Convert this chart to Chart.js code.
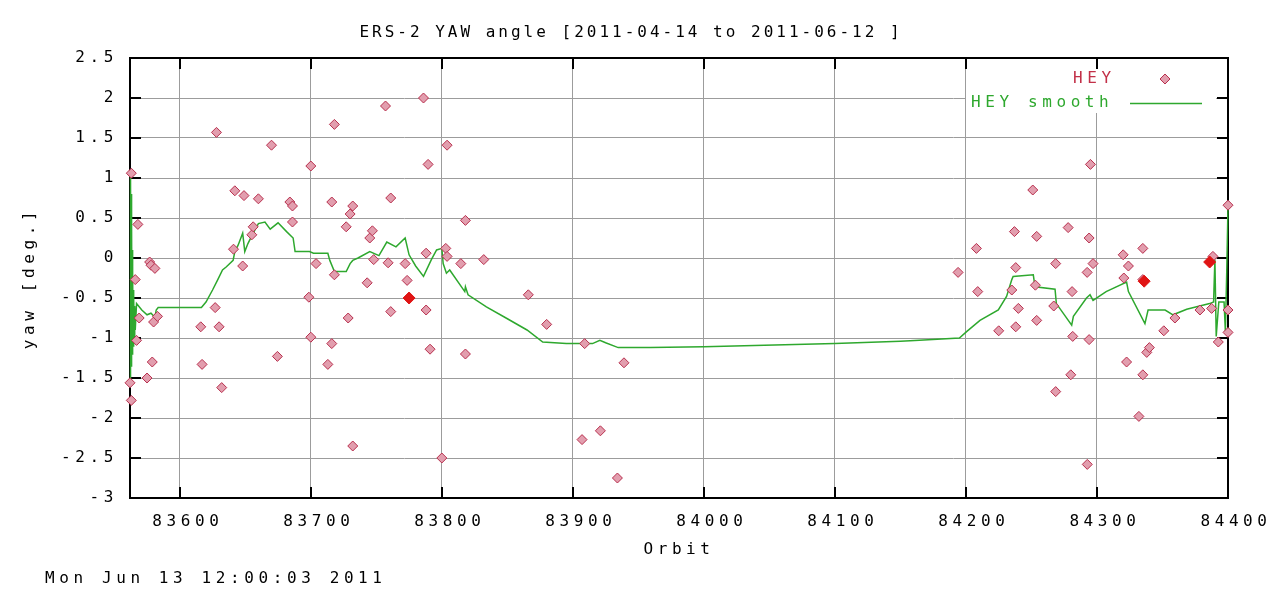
<!DOCTYPE html>
<html>
<head>
<meta charset="utf-8">
<script src="https://cdn.jsdelivr.net/npm/chart.js@4.4.1/dist/chart.umd.min.js"></script>
<style>
  html, body { margin: 0; padding: 0; background: #fff; }
</style>
</head>
<body>
<canvas id="yawChart" width="1277" height="593"></canvas>
<script>
// ---- Data ----
const heyOrbit = [
  83562, 83563, 83563, 83566, 83567, 83568, 83569, 83575, 83577, 83578, 83579, 83580, 83581, 83583,
  83616, 83617, 83627, 83628, 83630, 83632, 83641, 83642, 83648, 83649, 83655, 83656, 83660, 83670,
  83674.5, 83684, 83686, 83686, 83698.5, 83700, 83700, 83704, 83713, 83716, 83716, 83718, 83718,
  83727, 83728.5, 83730, 83732, 83732, 83743, 83745, 83747, 83748, 83757, 83759, 83761, 83761,
  83772, 83773.5, 83786, 83788, 83788, 83789.5, 83791, 83800, 83803, 83804, 83804, 83814.5, 83818,
  83818, 83832, 83866, 83880, 83907, 83909, 83921, 83934, 83939,
  84194, 84208, 84209, 84225, 84235, 84237, 84238, 84238, 84240, 84251, 84253, 84254, 84254, 84267,
  84268.5, 84268.5, 84278, 84280, 84281, 84281.5, 84292.5, 84292.6, 84294, 84294, 84295, 84297,
  84320, 84320.5, 84322.6, 84324, 84332, 84335, 84335, 84335, 84338, 84340, 84351, 84359.5,
  84378.6, 84387.5, 84388.5, 84392.6, 84400, 84400, 84400
];
const heyYaw = [
  -1.56, 1.06, -1.78, -0.27, -1.03, 0.42, -0.75, -1.50, -0.05, -0.09, -1.30, -0.80, -0.13, -0.73,
  -0.86, -1.33, -0.62, 1.57, -0.86, -1.62, 0.11, 0.84, -0.10, 0.78, 0.29, 0.39, 0.74, 1.41,
  -1.23, 0.70, 0.65, 0.45, -0.49, 1.15, -0.99, -0.07, -1.33, 0.70, -1.07, 1.67, -0.21,
  0.39, -0.75, 0.55, 0.65, -2.35, -0.31, 0.25, 0.34, -0.02, 1.90, -0.06, 0.75, -0.67,
  -0.07, -0.28, 2.00, 0.06, -0.65, 1.17, -1.14, -2.50, 0.12, 1.41, 0.02, -0.07, 0.47,
  -1.20, -0.02, -0.46, -0.83, -2.27, -1.07, -2.16, -2.75, -1.31,
  -0.18, 0.12, -0.42, -0.91, -0.40, 0.33, -0.12, -0.86, -0.63, 0.85, -0.34, 0.27, -0.78, -0.60,
  -0.07, -1.67, 0.38, -1.46, -0.42, -0.98, -0.18, -2.58, 0.25, -1.02, 1.17, -0.07,
  0.04, -0.25, -1.30, -0.10, -1.98, 0.12, -0.27, -1.46, -1.18, -1.12, -0.91, -0.75,
  -0.65, -0.63, 0.02, -1.05, 0.66, -0.65, -0.93
];
// overlapping samples that come out as solid red diamonds
const heyDenseOrbit = [83775, 84336, 84386];
const heyDenseYaw   = [-0.50, -0.29, -0.05];

const smoothOrbit = [
  83562, 83562.2, 83562.4, 83562.6, 83562.8, 83563, 83563.2, 83563.4, 83563.6, 83563.8, 83564,
  83564.2, 83564.4, 83564.6, 83564.8, 83565, 83565.3, 83565.6, 83566,
  83567, 83571, 83575, 83578, 83581, 83582, 83583.5, 83616.5, 83620, 83625, 83629, 83632.6,
  83635.6, 83640.7, 83642, 83644.5, 83648, 83649.6, 83652, 83656, 83660, 83665, 83669, 83675,
  83681.5, 83686.5, 83688, 83699, 83702, 83713, 83714.5, 83718, 83727, 83730, 83732, 83736,
  83745, 83752, 83758, 83765, 83772, 83775, 83780, 83786, 83792, 83796, 83800, 83801, 83803.5,
  83806, 83817.5, 83818, 83820, 83834, 83849, 83865, 83877, 83895, 83915, 83920.6, 83925,
  83934.6, 83959, 84000, 84100, 84150, 84161, 84195, 84200.5, 84210.7, 84224.7, 84231, 84235,
  84236, 84251.4, 84252.7, 84268, 84269, 84280.7, 84282, 84292, 84294.7, 84297, 84307, 84322.6,
  84324, 84336.6, 84339, 84352, 84358, 84368.5, 84386, 84389, 84390, 84391, 84393, 84397,
  84398, 84399, 84400
];
const smoothYaw = [
  -1.55, 1.05, -1.45, 0.95, -1.35, 0.80, -1.30, 0.40, -1.20, 0.10, -1.15,
  -0.20, -1.10, -0.40, -1.05, -0.50, -1.00, -0.60, -0.90,
  -0.57, -0.65, -0.71, -0.69, -0.74, -0.65, -0.62, -0.62, -0.55, -0.40, -0.27, -0.15,
  -0.11, -0.03, 0.08, 0.16, 0.31, 0.08, 0.18, 0.31, 0.43, 0.45, 0.36, 0.44,
  0.33, 0.25, 0.08, 0.08, 0.06, 0.06, -0.03, -0.17, -0.17, -0.07, -0.03, 0.00,
  0.08, 0.03, 0.20, 0.14, 0.25, 0.04, -0.10, -0.23, -0.02, 0.10, 0.12, -0.07, -0.19,
  -0.15, -0.42, -0.36, -0.46, -0.61, -0.75, -0.90, -1.05, -1.07, -1.07, -1.03, -1.06,
  -1.12, -1.12, -1.11, -1.07, -1.04, -1.03, -1.00, -0.92, -0.78, -0.65, -0.48, -0.27,
  -0.23, -0.21, -0.36, -0.39, -0.57, -0.84, -0.73, -0.50, -0.46, -0.53, -0.42, -0.30,
  -0.42, -0.82, -0.65, -0.65, -0.71, -0.64, -0.57, -0.55, -0.02, -0.98, -0.55, -0.55,
  -0.92, -0.20, 0.66
];

const xTickValues = [83600, 83700, 83800, 83900, 84000, 84100, 84200, 84300, 84400];
const yTickValues = [-3, -2.5, -2, -1.5, -1, -0.5, 0, 0.5, 1, 1.5, 2, 2.5];

const TITLE     = 'ERS-2 YAW angle [2011-04-14 to 2011-06-12 ]';
const X_TITLE   = 'Orbit';
const Y_TITLE   = 'yaw [deg.]';
const TIMESTAMP = 'Mon Jun 13 12:00:03 2011';

// ---- Look ----
const MONO    = '"DejaVu Sans Mono", "Liberation Mono", monospace';
const SPACING = '4.6px';
const GRID    = '#9c9c9c';
const PT_FILL = '#e29eae';
const PT_EDGE = '#b8304e';
const GREEN   = '#2ea82e';

const toXY = (xs, ys) => xs.map((x, i) => ({ x, y: ys[i] }));

// ---- gnuplot style frame, inward ticks, key and texts ----
const gnuplotFrame = {
  id: 'gnuplotFrame',
  beforeDraw(chart) {
    chart.ctx.letterSpacing = SPACING;
  },
  beforeDatasetsDraw(chart) {
    const { ctx, chartArea: a, scales: { x, y } } = chart;
    ctx.save();
    // key box hides the grid behind it
    ctx.fillStyle = '#fff';
    ctx.fillRect(966, 68, 250, 45);

    ctx.strokeStyle = '#000';
    ctx.lineWidth = 2;
    ctx.strokeRect(a.left, a.top, a.right - a.left, a.bottom - a.top);
    ctx.beginPath();
    y.ticks.forEach(t => {
      const py = Math.round(y.getPixelForValue(t.value));
      ctx.moveTo(a.left, py);  ctx.lineTo(a.left + 11, py);
      ctx.moveTo(a.right, py); ctx.lineTo(a.right - 11, py);
    });
    x.ticks.forEach(t => {
      const px = Math.round(x.getPixelForValue(t.value));
      ctx.moveTo(px, a.bottom); ctx.lineTo(px, a.bottom - 11);
      ctx.moveTo(px, a.top);    ctx.lineTo(px, a.top + 11);
    });
    ctx.stroke();
    ctx.restore();
  },
  afterDraw(chart) {
    const { ctx, chartArea: a } = chart;
    ctx.save();
    ctx.font = '16px ' + MONO;
    ctx.textBaseline = 'middle';
    ctx.fillStyle = '#000';

    // title is set a little tighter than the axis texts
    ctx.letterSpacing = '3px';
    ctx.textAlign = 'center';
    ctx.fillText(TITLE, 631, 33);

    ctx.letterSpacing = SPACING;
    ctx.fillText(X_TITLE, (a.left + a.right) / 2, 550);

    ctx.textAlign = 'left';
    ctx.fillText(TIMESTAMP, 45, 579);

    ctx.save();
    ctx.translate(30, (a.top + a.bottom) / 2);
    ctx.rotate(-Math.PI / 2);
    ctx.textAlign = 'center';
    ctx.fillText(Y_TITLE, 0, 0);
    ctx.restore();

    // key
    ctx.textAlign = 'left';
    ctx.fillStyle = '#c23048';
    ctx.fillText('HEY', 1073, 79);
    ctx.fillStyle = GREEN;
    ctx.fillText('HEY smooth', 971, 103);
    ctx.strokeStyle = GREEN;
    ctx.lineWidth = 1.5;
    ctx.beginPath();
    ctx.moveTo(1130, 103.5);
    ctx.lineTo(1202, 103.5);
    ctx.stroke();
    ctx.fillStyle = PT_FILL;
    ctx.strokeStyle = PT_EDGE;
    ctx.lineWidth = 1;
    Chart.helpers.drawPoint(ctx, { pointStyle: 'rectRot', radius: 5, rotation: 0, borderWidth: 1 }, 1165, 79);
    ctx.restore();
  }
};

new Chart(document.getElementById('yawChart'), {
  type: 'scatter',
  data: {
    datasets: [
      {
        label: 'HEY smooth',
        data: toXY(smoothOrbit, smoothYaw),
        showLine: true,
        borderColor: GREEN,
        borderWidth: 1.5,
        pointRadius: 0,
        tension: 0,
        clip: 4,
        order: 2
      },
      {
        label: 'HEY',
        data: toXY(heyOrbit, heyYaw),
        pointStyle: 'rectRot',
        pointRadius: 5,
        pointBackgroundColor: PT_FILL,
        pointBorderColor: PT_EDGE,
        pointBorderWidth: 1,
        clip: 8,
        order: 1
      },
      {
        label: 'HEY dense',
        data: toXY(heyDenseOrbit, heyDenseYaw),
        pointStyle: 'rectRot',
        pointRadius: 6,
        pointBackgroundColor: '#e01414',
        pointBorderColor: '#e01414',
        pointBorderWidth: 1,
        clip: 8,
        order: 0
      }
    ]
  },
  options: {
    responsive: false,
    animation: false,
    devicePixelRatio: 1,
    layout: { padding: { left: 0, top: 58, right: 49, bottom: 0 } },
    plugins: {
      legend: { display: false },
      title: { display: false },
      tooltip: { enabled: false }
    },
    scales: {
      x: {
        type: 'linear',
        min: 83562,
        max: 84400,
        afterBuildTicks: s => { s.ticks = xTickValues.map(v => ({ value: v })); },
        afterFit: s => { s.height = 95; },
        grid: { color: GRID, lineWidth: 1, drawTicks: false },
        border: { display: false },
        ticks: {
          autoSkip: false, maxRotation: 0, padding: 14, labelOffset: 8,
          color: '#000', font: { family: MONO, size: 16 },
          callback: v => String(v)
        }
      },
      y: {
        type: 'linear',
        min: -3,
        max: 2.5,
        afterBuildTicks: s => { s.ticks = yTickValues.map(v => ({ value: v })); },
        afterFit: s => { s.width = 130; },
        grid: { color: GRID, lineWidth: 1, drawTicks: false },
        border: { display: false },
        ticks: {
          padding: 12,
          color: '#000', font: { family: MONO, size: 16 },
          callback: v => String(v)
        }
      }
    }
  },
  plugins: [gnuplotFrame]
});
</script>
</body>
</html>
